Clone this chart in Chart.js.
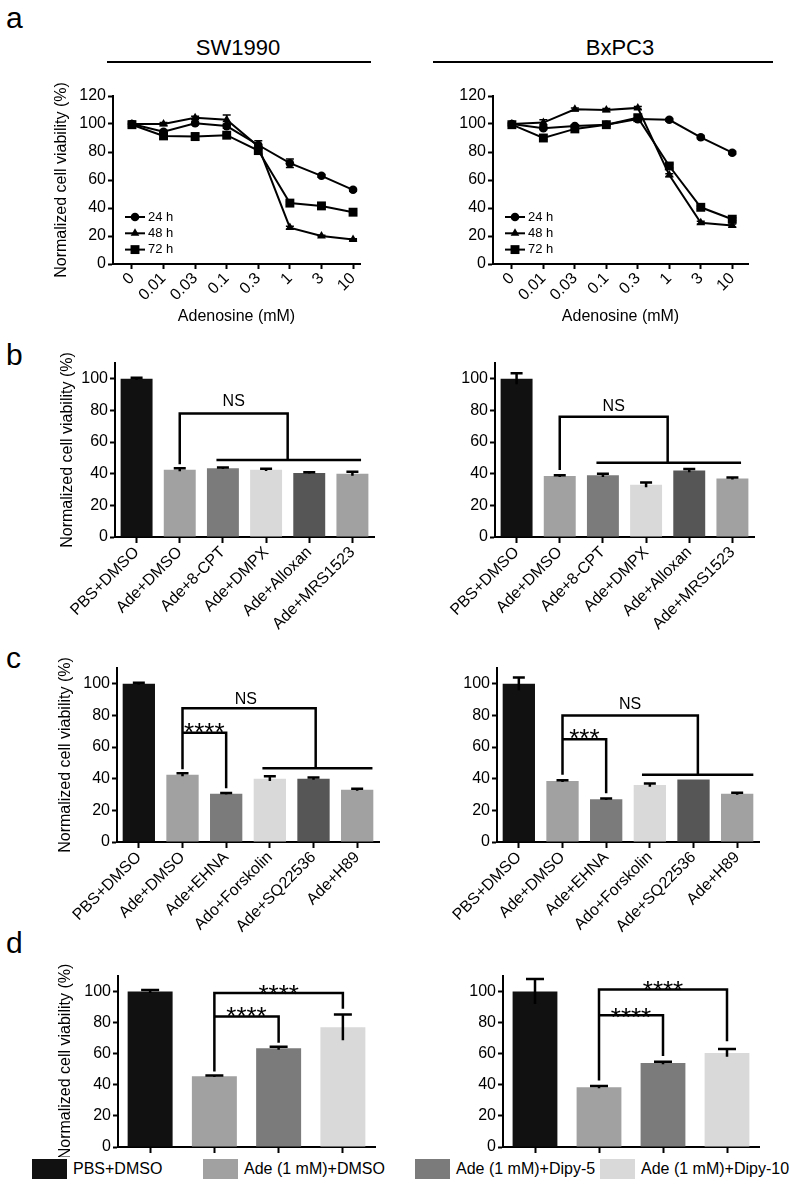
<!DOCTYPE html>
<html>
<head>
<meta charset="utf-8">
<script src="https://cdn.jsdelivr.net/npm/chart.js@4.4.1/dist/chart.umd.min.js"></script>
<style>
  body { margin: 0; background: #fff; }
  #fig { position: relative; width: 790px; height: 1190px; font-family: "Liberation Sans", Arial, sans-serif; color: #000; }
  #fig canvas { position: absolute; }
  .tag { position: absolute; font-size: 30px; line-height: 30px; }
  .ttl { position: absolute; width: 200px; font-size: 22px; line-height: 22px; text-align: center; }
  .rule { position: absolute; height: 2px; background: #000; }
  .key { position: absolute; width: 35px; height: 20px; }
  .keyt { position: absolute; font-size: 16px; line-height: 20px; white-space: nowrap; }
</style>
</head>
<body>
<div id="fig">
  <div class="tag" style="left:6px;top:3px">a</div>
  <div class="tag" style="left:6px;top:340px">b</div>
  <div class="tag" style="left:6px;top:643px">c</div>
  <div class="tag" style="left:6px;top:928px">d</div>
  <div class="ttl" style="left:138px;top:37px">SW1990</div>
  <div class="ttl" style="left:520px;top:37px">BxPC3</div>
  <div class="rule" style="left:107px;top:61px;width:264px"></div>
  <div class="rule" style="left:433px;top:61px;width:340px"></div>
  <canvas id="aL"></canvas>
  <canvas id="aR"></canvas>
  <canvas id="bL"></canvas>
  <canvas id="bR"></canvas>
  <canvas id="cL"></canvas>
  <canvas id="cR"></canvas>
  <canvas id="dL"></canvas>
  <canvas id="dR"></canvas>
</div>
<script>
// ---- panel a: dose response ----
var doses = ["0", "0.01", "0.03", "0.1", "0.3", "1", "3", "10"];
var times = ["24 h", "48 h", "72 h"];
var sw24 = [100, 94.5, 100.5, 98.5, 85, 72, 63, 53];
var sw48 = [100, 100, 104.5, 103, 84, 26, 20, 17.5];
var sw72 = [99.5, 91.5, 91, 92, 81, 43.5, 41.5, 37];
var sw24Err = [2, 1, 1, 1.5, 3, 3, 1, 1];
var sw48Err = [1, 1, 1, 3.5, 1, 1, 0.5, 0.5];
var sw72Err = [2, 2, 2.5, 1, 2, 1, 1, 1];
var bx24 = [100, 97, 98.5, 99.5, 103.5, 103, 90.5, 79.5];
var bx48 = [100, 101, 110.5, 110, 111.5, 63.5, 29.5, 27.5];
var bx72 = [99.5, 90, 96.5, 99.5, 104.5, 70, 40.5, 32];
var bx24Err = [1, 1, 1, 1, 1, 1, 1, 1];
var bx48Err = [1, 2, 1, 1, 1, 1, 1, 1];
var bx72Err = [1, 1, 1, 1, 2, 1.5, 1, 1];
var doseTicks = [0, 20, 40, 60, 80, 100, 120];

// ---- panel b: receptor antagonists ----
var bLabels = ["PBS+DMSO", "Ade+DMSO", "Ade+8-CPT", "Ade+DMPX", "Ade+Alloxan", "Ade+MRS1523"];
var bSW = [100, 42.5, 43.5, 42.5, 40.5, 40];
var bSWErr = [0.7, 1, 0.5, 0.7, 0.5, 1.2];
var bBx = [100, 38.5, 39, 33, 42, 37];
var bBxErr = [3.5, 0.5, 1, 1.5, 1, 0.6];

// ---- panel c: cAMP pathway ----
var cLabels = ["PBS+DMSO", "Ade+DMSO", "Ade+EHNA", "Ado+Forskolin", "Ade+SQ22536", "Ade+H89"];
var cSW = [100, 42.5, 30.5, 40, 40, 33];
var cSWErr = [0.6, 1, 0.5, 1.5, 0.7, 0.6];
var cBx = [100, 38.5, 27, 36, 39.5, 30.5];
var cBxErr = [4, 0.5, 0.5, 1, 0, 0.7];

// ---- panel d: dipyridamole ----
var dLabels = ["PBS+DMSO", "Ade (1 mM)+DMSO", "Ade (1 mM)+Dipy-5", "Ade (1 mM)+Dipy-10"];
var dSW = [100, 45.5, 63.5, 77];
var dSWErr = [1, 0.5, 1, 8.3];
var dBx = [100, 38.5, 54, 60.5];
var dBxErr = [8, 0.7, 0.8, 2.5];
var barTicks = [0, 20, 40, 60, 80, 100];

// significance brackets, in (category index, value) units
var bSWLines = [[[1, 46], [1, 78], [3.5, 78], [3.5, 48.6]], [[1.85, 48.6], [5.2, 48.6]]];
var bSWMarks = [[2.25, 85.3, "NS"]];
var bBxLines = [[[1, 42.3], [1, 76], [3.5, 76], [3.5, 47]], [[1.85, 47], [5.2, 47]]];
var bBxMarks = [[2.25, 82.7, "NS"]];
var cSWLines = [[[1, 46], [1, 84.6], [4.05, 84.6], [4.05, 46.7]], [[2.83, 46.7], [5.35, 46.7]], [[1, 69], [2, 69], [2, 34]]];
var cSWMarks = [[2.45, 90.3, "NS"], [1.5, 73.5, "****"]];
var cBxLines = [[[1, 42.5], [1, 80], [4.1, 80], [4.1, 42.5]], [[2.82, 42.5], [5.37, 42.5]], [[1, 65], [2, 65], [2, 30.8]]];
var cBxMarks = [[2.55, 86.8, "NS"], [1.5, 69.3, "***"]];
var dSWLines = [[[1, 48.5], [1, 99], [3, 99], [3, 89]], [[1, 84], [2, 84], [2, 67]]];
var dSWMarks = [[2, 102.4, "****"], [1.5, 88, "****"]];
var dBxLines = [[[1, 42.7], [1, 101.3], [3, 101.3], [3, 68]], [[1, 84.7], [2, 84.7], [2, 58.6]]];
var dBxMarks = [[2, 104.8, "****"], [1.5, 87.7, "****"]];

var greys6 = ["#111111", "#a1a1a1", "#7b7b7b", "#d9d9d9", "#565656", "#a1a1a1"];
var greys4 = ["#111111", "#a1a1a1", "#7b7b7b", "#d9d9d9"];
var markers = ["circle", "triangle", "rect"];
var markerSize = [4.3, 5, 6.3];

var FONT = '"Liberation Sans", Arial, sans-serif';
Chart.defaults.font.family = FONT;
Chart.defaults.color = '#000';

function drawMarker(ctx, style, x, y, r) {
  ctx.beginPath();
  if (style === 'circle') {
    ctx.arc(x, y, r, 0, Math.PI * 2);
  } else if (style === 'triangle') {
    ctx.moveTo(x, y - r);
    ctx.lineTo(x + r * 0.866, y + r * 0.5);
    ctx.lineTo(x - r * 0.866, y + r * 0.5);
    ctx.closePath();
  } else {
    var h = r * Math.SQRT1_2;
    ctx.rect(x - h, y - h, 2 * h, 2 * h);
  }
  ctx.fill();
}

var errorBars = {
  id: 'errorBars',
  afterDatasetsDraw: function (chart, args, o) {
    var ctx = chart.ctx, ys = chart.scales.y;
    chart.data.datasets.forEach(function (ds, i) {
      if (!ds.err) return;
      var meta = chart.getDatasetMeta(i);
      meta.data.forEach(function (el, j) {
        var e = ds.err[j];
        if (!e) return;
        var v = ds.data[j];
        v = typeof v === 'object' ? v.y : v;
        var top = ys.getPixelForValue(v + e), bot = ys.getPixelForValue(v - e);
        var c = (o.cap || 10) / 2;
        ctx.save();
        ctx.strokeStyle = '#000';
        ctx.lineWidth = o.width || 2;
        ctx.beginPath();
        ctx.moveTo(el.x, top); ctx.lineTo(el.x, bot);
        ctx.moveTo(el.x - c, top); ctx.lineTo(el.x + c, top);
        if (o.both) { ctx.moveTo(el.x - c, bot); ctx.lineTo(el.x + c, bot); }
        ctx.stroke();
        ctx.restore();
      });
    });
  }
};

var brackets = {
  id: 'brackets',
  afterDraw: function (chart, args, o) {
    if (!o.lines) return;
    var ctx = chart.ctx, xs = chart.scales.x, ys = chart.scales.y;
    ctx.save();
    ctx.strokeStyle = '#000';
    ctx.lineWidth = 2.5;
    o.lines.forEach(function (ln) {
      ctx.beginPath();
      ln.forEach(function (p, k) {
        var px = xs.getPixelForValue(p[0]), py = ys.getPixelForValue(p[1]);
        if (k) ctx.lineTo(px, py); else ctx.moveTo(px, py);
      });
      ctx.stroke();
    });
    ctx.fillStyle = '#000';
    ctx.textAlign = 'center';
    o.marks.forEach(function (t) {
      var px = xs.getPixelForValue(t[0]), py = ys.getPixelForValue(t[1]);
      if (t[2] === 'NS') {
        ctx.font = '16px ' + FONT;
        ctx.textBaseline = 'middle';
        ctx.fillText(t[2], px, py);
      } else {
        ctx.font = '26px ' + FONT;
        ctx.textBaseline = 'alphabetic';
        ctx.fillText(t[2], px, py + 15);
      }
    });
    ctx.restore();
  }
};

var miniLegend = {
  id: 'miniLegend',
  afterDraw: function (chart, args, o) {
    if (!o.show) return;
    var ctx = chart.ctx, a = chart.chartArea;
    ctx.save();
    chart.data.datasets.forEach(function (ds, i) {
      var y = a.top + 121 + i * 16.3, x0 = a.left + 12;
      ctx.strokeStyle = '#000';
      ctx.fillStyle = '#000';
      ctx.lineWidth = 2;
      ctx.beginPath(); ctx.moveTo(x0, y); ctx.lineTo(x0 + 20, y); ctx.stroke();
      drawMarker(ctx, ds.pointStyle, x0 + 10, y, ds.pointRadius);
      ctx.font = '13px ' + FONT;
      ctx.textBaseline = 'middle';
      ctx.textAlign = 'left';
      ctx.fillText(ds.label, x0 + 23, y);
    });
    ctx.restore();
  }
};

Chart.register(errorBars, brackets, miniLegend);

function axisLook(extra) {
  var s = {
    grid: { drawOnChartArea: false, tickLength: 5, tickWidth: 2, tickColor: '#000' },
    border: { color: '#000', width: 2 }
  };
  for (var k in extra) s[k] = extra[k];
  return s;
}

function yScale(max, tickVals, title) {
  return axisLook({
    min: 0, max: max,
    afterBuildTicks: function (s) { s.ticks = tickVals.map(function (v) { return { value: v }; }); },
    ticks: { font: { size: 16 }, color: '#000', padding: 2 },
    title: { display: !!title, text: title || '', font: { size: 16 }, color: '#000', padding: 4 }
  });
}

function panel(id, box, area, config) {
  var cv = document.getElementById(id);
  cv.width = box.w; cv.height = box.h;
  cv.style.left = box.x + 'px';
  cv.style.top = box.y + 'px';
  var yw = area.l - box.x, xh = box.y + box.h - area.b;
  config.options.responsive = false;
  config.options.animation = false;
  config.options.layout = { padding: { left: 0, top: area.t - box.y, right: box.x + box.w - area.r, bottom: 0 } };
  config.options.scales.y.afterFit = function (s) { s.width = yw; s.paddingTop = 0; s.paddingBottom = 0; };
  config.options.scales.x.afterFit = function (s) { s.height = xh; s.paddingLeft = 0; s.paddingRight = 0; };
  return new Chart(cv, config);
}

function doseChart(id, box, area, xmax, series, errs, ytitle) {
  var sets = series.map(function (vals, k) {
    return {
      label: times[k],
      data: vals.map(function (v, i) { return { x: i, y: v }; }),
      err: errs[k],
      borderColor: '#000', backgroundColor: '#000', borderWidth: 2,
      pointStyle: markers[k], pointRadius: markerSize[k], pointBorderWidth: 0,
      pointBackgroundColor: '#000', tension: 0
    };
  });
  panel(id, box, area, {
    type: 'line',
    data: { datasets: sets },
    options: {
      plugins: {
        legend: { display: false }, tooltip: { enabled: false },
        errorBars: { cap: 8, width: 1.5, both: true },
        miniLegend: { show: true }
      },
      scales: {
        x: axisLook({
          type: 'linear', min: -0.6, max: xmax, bounds: 'data',
          afterBuildTicks: function (s) { s.ticks = doses.map(function (d, i) { return { value: i }; }); },
          ticks: {
            autoSkip: false, minRotation: 45, maxRotation: 45, padding: 0,
            font: { size: 16 }, color: '#000',
            callback: function (v) { return doses[v]; }
          },
          title: { display: true, text: 'Adenosine (mM)', font: { size: 16 }, color: '#000', padding: { top: 0, bottom: 4 } }
        }),
        y: yScale(120, doseTicks, ytitle)
      }
    }
  });
}

function barChart(id, box, area, labels, vals, errs, colors, pct, cap, lines, marks, showLabels) {
  panel(id, box, area, {
    type: 'bar',
    data: {
      labels: labels,
      datasets: [{ data: vals, err: errs, backgroundColor: colors, borderWidth: 0, barPercentage: pct, categoryPercentage: 1 }]
    },
    options: {
      plugins: {
        legend: { display: false }, tooltip: { enabled: false },
        errorBars: { cap: cap, width: 2.5 },
        brackets: { lines: lines, marks: marks }
      },
      scales: {
        x: axisLook({
          offset: true,
          grid: { offset: false, drawOnChartArea: false, tickLength: 6, tickWidth: 2, tickColor: '#000' },
          ticks: { display: showLabels, autoSkip: false, minRotation: 45, maxRotation: 45, padding: 0, font: { size: 16 }, color: '#000' }
        }),
        y: yScale(110, barTicks, id.charAt(1) === 'L' ? 'Normalized cell viability (%)' : '')
      }
    }
  });
}

var ytl = 'Normalized cell viability (%)';
doseChart('aL', { x: 48, y: 80, w: 327, h: 250 }, { l: 113, r: 360, t: 96, b: 264 }, 7.22, [sw24, sw48, sw72], [sw24Err, sw48Err, sw72Err], ytl);
doseChart('aR', { x: 440, y: 80, w: 320, h: 250 }, { l: 493, r: 748, t: 96, b: 264 }, 7.5, [bx24, bx48, bx72], [bx24Err, bx48Err, bx72Err], '');

barChart('bL', { x: 54, y: 350, w: 331, h: 285 }, { l: 115, r: 374, t: 363, b: 537 }, bLabels, bSW, bSWErr, greys6, 0.74, 12, bSWLines, bSWMarks, true);
barChart('bR', { x: 440, y: 350, w: 325, h: 285 }, { l: 495, r: 754, t: 363, b: 537 }, bLabels, bBx, bBxErr, greys6, 0.74, 12, bBxLines, bBxMarks, true);

barChart('cL', { x: 52, y: 655, w: 338, h: 285 }, { l: 117, r: 379, t: 668, b: 842 }, cLabels, cSW, cSWErr, greys6, 0.74, 12, cSWLines, cSWMarks, true);
barChart('cR', { x: 440, y: 655, w: 330, h: 285 }, { l: 497, r: 759, t: 668, b: 842 }, cLabels, cBx, cBxErr, greys6, 0.74, 12, cBxLines, cBxMarks, true);

barChart('dL', { x: 52, y: 963, w: 334, h: 194 }, { l: 118, r: 375, t: 976, b: 1147 }, dLabels, dSW, dSWErr, greys4, 0.7, 18, dSWLines, dSWMarks, false);
barChart('dR', { x: 445, y: 963, w: 325, h: 194 }, { l: 503, r: 759, t: 976, b: 1147 }, dLabels, dBx, dBxErr, greys4, 0.7, 18, dBxLines, dBxMarks, false);

// shared legend under panel d
var fig = document.getElementById('fig');
var keyLeft = [32, 203, 415, 600];
dLabels.forEach(function (lab, i) {
  var sq = document.createElement('div');
  sq.className = 'key';
  sq.style.left = keyLeft[i] + 'px';
  sq.style.top = '1159px';
  sq.style.background = greys4[i];
  fig.appendChild(sq);
  var tx = document.createElement('div');
  tx.className = 'keyt';
  tx.style.left = (keyLeft[i] + 41) + 'px';
  tx.style.top = '1159px';
  tx.textContent = lab;
  fig.appendChild(tx);
});
</script>
</body>
</html>
